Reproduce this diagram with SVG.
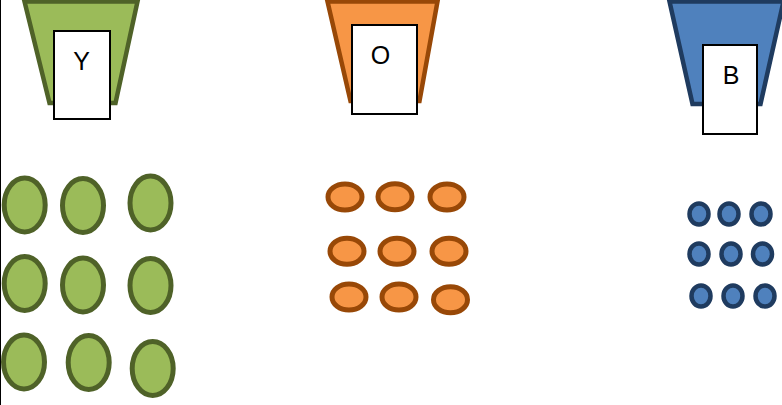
<svg xmlns="http://www.w3.org/2000/svg" width="782" height="405" viewBox="0 0 782 405">
<style>
.g{fill:#9BBB59;stroke:#4F6228}
.o{fill:#F79646;stroke:#984807}
.b{fill:#4F81BD;stroke:#1F3B5F}
.bk{stroke-width:4.5;stroke-linejoin:miter}
.ge{stroke-width:5}
.oe{stroke-width:5}
.be{stroke-width:4.5}
.lbl{fill:#fff;stroke:#000;stroke-width:2}
.t{font-family:"Liberation Sans",Arial,sans-serif;font-size:25px;fill:#000;text-anchor:middle}
</style>
<rect x="0" y="0" width="782" height="405" fill="#fff"/>
<line x1="0.5" y1="0" x2="0.5" y2="405" stroke="#000" stroke-width="1"/>
<g id="bucket-Y">
<polygon class="g bk" points="24.5,1.5 137.5,1.5 115.5,103 49.5,103"/>
<rect class="lbl" x="54" y="31" width="56" height="88"/>
<text class="t" x="81.5" y="70">Y</text>
</g>
<g id="bucket-O">
<polygon class="o bk" points="327.5,1.5 437.5,1.5 419.5,101 350.5,101"/>
<rect class="lbl" x="352" y="25" width="65" height="89"/>
<text class="t" x="380.5" y="64">O</text>
</g>
<g id="bucket-B">
<polygon class="b bk" points="669.5,1.5 783.5,1.5 760.5,104 692.5,104"/>
<rect class="lbl" x="703" y="45" width="54" height="89"/>
<text class="t" x="731" y="84">B</text>
</g>
<g id="green-items">
<ellipse class="g ge" cx="24.7" cy="205" rx="20.5" ry="27"/>
<ellipse class="g ge" cx="83" cy="205.5" rx="20.5" ry="27"/>
<ellipse class="g ge" cx="150.5" cy="203" rx="20.5" ry="27"/>
<ellipse class="g ge" cx="24.7" cy="283.5" rx="20.5" ry="27"/>
<ellipse class="g ge" cx="83" cy="285" rx="20.5" ry="27"/>
<ellipse class="g ge" cx="150.5" cy="285.5" rx="20.5" ry="27"/>
<ellipse class="g ge" cx="24" cy="362" rx="20.5" ry="27"/>
<ellipse class="g ge" cx="88.7" cy="362.5" rx="20.5" ry="27"/>
<ellipse class="g ge" cx="152.7" cy="368.5" rx="20.5" ry="27"/>
</g>
<g id="orange-items">
<ellipse class="o oe" cx="345" cy="197" rx="17" ry="13"/>
<ellipse class="o oe" cx="395" cy="196.7" rx="17" ry="13"/>
<ellipse class="o oe" cx="447" cy="197" rx="17" ry="13"/>
<ellipse class="o oe" cx="347" cy="251.3" rx="17" ry="13"/>
<ellipse class="o oe" cx="397" cy="251.3" rx="17" ry="13"/>
<ellipse class="o oe" cx="449" cy="251.3" rx="17" ry="13"/>
<ellipse class="o oe" cx="349" cy="297" rx="17" ry="13"/>
<ellipse class="o oe" cx="399" cy="297" rx="17" ry="13"/>
<ellipse class="o oe" cx="450.5" cy="299.7" rx="17" ry="13"/>
</g>
<g id="blue-items">
<ellipse class="b be" cx="699" cy="214" rx="9.5" ry="10.5"/>
<ellipse class="b be" cx="729" cy="214" rx="9.5" ry="10.5"/>
<ellipse class="b be" cx="761" cy="214" rx="9.5" ry="10.5"/>
<ellipse class="b be" cx="699" cy="254" rx="9.5" ry="10.5"/>
<ellipse class="b be" cx="731" cy="254" rx="9.5" ry="10.5"/>
<ellipse class="b be" cx="762.5" cy="254" rx="9.5" ry="10.5"/>
<ellipse class="b be" cx="701" cy="296" rx="9.5" ry="10.5"/>
<ellipse class="b be" cx="733" cy="296" rx="9.5" ry="10.5"/>
<ellipse class="b be" cx="765" cy="296" rx="9.5" ry="10.5"/>
</g>
<g id="connectors"></g>
</svg>
